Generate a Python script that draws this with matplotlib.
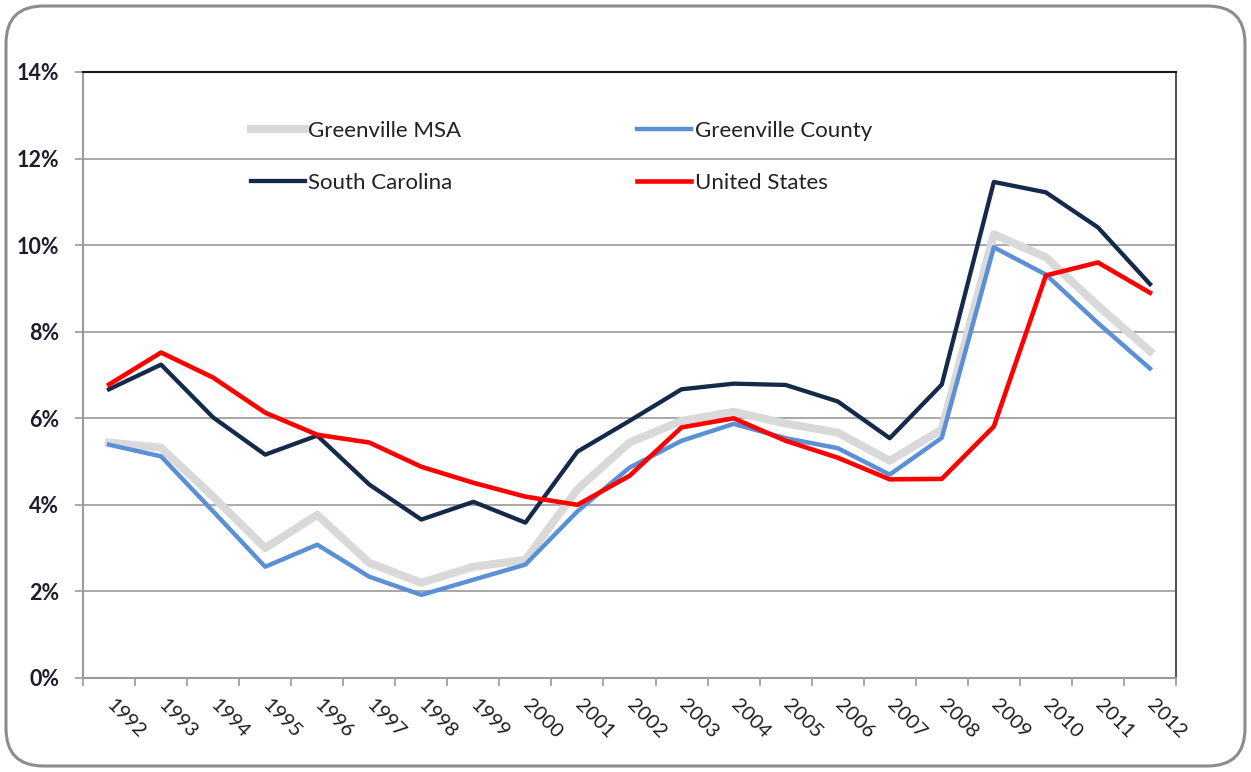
import matplotlib
matplotlib.use("Agg")
import matplotlib.pyplot as plt
from matplotlib.patches import FancyBboxPatch
from matplotlib.ticker import FuncFormatter, FixedLocator

years = [str(y) for y in range(1992, 2013)]

# unemployment rates in percent
greenville_msa = [5.44, 5.32, 4.19, 3.0, 3.77, 2.66, 2.2, 2.57, 2.73, 4.36, 5.44,
                  5.94, 6.15, 5.88, 5.67, 5.02, 5.74, 10.25, 9.72, 8.6, 7.55]
greenville_county = [5.39, 5.12, 3.85, 2.57, 3.08, 2.34, 1.92, 2.27, 2.62, 3.85, 4.86,
                     5.48, 5.87, 5.54, 5.31, 4.7, 5.55, 9.95, 9.32, 8.2, 7.15]
south_carolina = [6.67, 7.24, 6.02, 5.16, 5.6, 4.47, 3.66, 4.07, 3.59, 5.23, 5.94,
                  6.67, 6.8, 6.77, 6.39, 5.54, 6.78, 11.46, 11.22, 10.41, 9.1]
united_states = [6.78, 7.52, 6.94, 6.13, 5.62, 5.44, 4.88, 4.51, 4.19, 4.0, 4.67,
                 5.79, 6.0, 5.48, 5.09, 4.59, 4.6, 5.81, 9.3, 9.6, 8.9]

plt.rcParams['font.family'] = ['Lato', 'DejaVu Sans']

fig = plt.figure(figsize=(12.51, 7.72), dpi=100)

# rounded frame round the whole chart
frame = FancyBboxPatch((6 / 1251, 6 / 772), 1239 / 1251, 760 / 772,
                       boxstyle="round,pad=0,rounding_size=0.03",
                       transform=fig.transFigure, facecolor='none',
                       edgecolor='#8c8c8c', linewidth=2.2, zorder=-1,
                       mutation_aspect=1251 / 772)
fig.patches.append(frame)

ax = fig.add_axes([83 / 1251, 1 - 678 / 772, (1176 - 83) / 1251, (678 - 72) / 772])
ax.set_facecolor('none')

x = list(range(len(years)))
l_msa, = ax.plot(x, greenville_msa, color='#d9d9d9', lw=5.8, label='Greenville MSA', zorder=3)
l_cty, = ax.plot(x, greenville_county, color='#5b8fd6', lw=3.2, label='Greenville County', zorder=4)
l_sc, = ax.plot(x, south_carolina, color='#15294a', lw=3.1, label='South Carolina', zorder=5)
l_us, = ax.plot(x, united_states, color='#ff0000', lw=3.3, label='United States', zorder=6)

ax.set_xlim(-0.5, len(years) - 0.5)
ax.set_ylim(0, 14)

# y axis
ax.set_yticks(range(0, 15, 2))
ax.yaxis.set_major_formatter(FuncFormatter(lambda v, p: f"{int(v)}%"))
ax.grid(axis='y', color='#9a9a9a', lw=1.2, zorder=1)
ax.tick_params(axis='y', length=6, width=1.2, color='#9a9a9a', pad=11,
               labelsize=15.5, labelcolor='#1c1c2c')
for lab in ax.get_yticklabels():
    lab.set_fontweight('bold')

# x axis: ticks between categories, labels at centres
ax.xaxis.set_major_locator(FixedLocator([i - 0.5 for i in range(len(years) + 1)]))
ax.xaxis.set_minor_locator(FixedLocator(x))
ax.xaxis.set_major_formatter(FuncFormatter(lambda v, p: ''))
ax.set_xticks(x, minor=True)
ax.set_xticklabels(years, minor=True)
ax.tick_params(axis='x', which='major', length=6, width=1.2, color='#9a9a9a')
ax.tick_params(axis='x', which='minor', length=0, pad=17, labelsize=14.5,
               labelcolor='#1e1e1e')
for lab in ax.get_xticklabels(minor=True):
    lab.set_rotation(-45)
    lab.set_rotation_mode('anchor')
    lab.set_ha('left')
    lab.set_va('center')

for side in ['left', 'bottom']:
    ax.spines[side].set_color('#9a9a9a')
    ax.spines[side].set_linewidth(1.5)
ax.spines['top'].set_color('#1a1a1a')
ax.spines['top'].set_linewidth(1.5)
ax.spines['right'].set_color('#555555')
ax.spines['right'].set_linewidth(1.5)

# legend fills column by column, so order the handles to get MSA/County on row one
leg = ax.legend([l_msa, l_sc, l_cty, l_us],
                ['Greenville MSA', 'South Carolina', 'Greenville County', 'United States'],
                ncol=2, loc='upper left', bbox_to_anchor=(0.135, 0.952),
                frameon=False, fontsize=16, handlelength=2.45, handletextpad=0.15,
                columnspacing=7.9, labelspacing=1.42)
for t in leg.get_texts():
    t.set_color('#222222')

fig.savefig('out.png', dpi=100)
